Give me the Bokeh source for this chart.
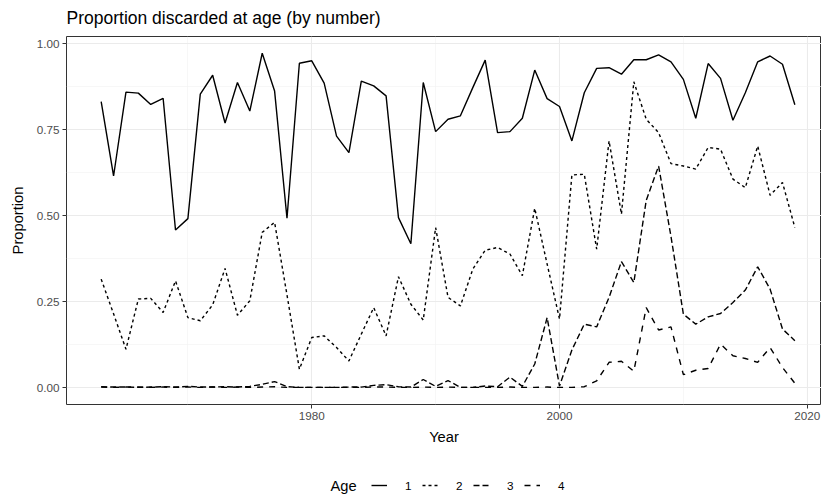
from bokeh.plotting import figure
from bokeh.models import Range1d, FixedTicker, Legend, LegendItem, ColumnDataSource, Label
from bokeh.layouts import column
from bokeh.embed import file_html
from bokeh.resources import INLINE

years = list(range(1963, 2020))

age1 = [0.832, 0.616, 0.860, 0.857, 0.824, 0.842, 0.459, 0.492, 0.854, 0.909,
        0.770, 0.888, 0.805, 0.973, 0.863, 0.493, 0.944, 0.951,
        0.886, 0.732, 0.684, 0.892, 0.878, 0.849, 0.495, 0.419, 0.888, 0.745,
        0.781, 0.791, 0.873, 0.953, 0.742, 0.745, 0.784, 0.924, 0.841, 0.818,
        0.718, 0.858, 0.929, 0.931, 0.912, 0.954, 0.954, 0.968, 0.948, 0.897,
        0.784, 0.943, 0.900, 0.778, 0.858, 0.948, 0.965, 0.941, 0.823]

age2 = [0.316, 0.215, 0.112, 0.258, 0.260, 0.219, 0.311, 0.204, 0.195, 0.241,
        0.347, 0.211, 0.253, 0.452, 0.481, 0.270, 0.054, 0.146,
        0.151, 0.117, 0.078, 0.156, 0.233, 0.151, 0.323, 0.243, 0.197, 0.466,
        0.263, 0.238, 0.345, 0.400, 0.408, 0.389, 0.326, 0.522, 0.360, 0.200,
        0.619, 0.621, 0.403, 0.718, 0.505, 0.890, 0.781, 0.742, 0.652, 0.645,
        0.636, 0.699, 0.694, 0.607, 0.582, 0.703, 0.560, 0.597, 0.466]

age3 = [0.003, 0.002, 0.002, 0.001, 0.002, 0.003, 0.002, 0.004, 0.002, 0.002,
        0.003, 0.002, 0.004, 0.010, 0.018, 0.003, 0.001, 0.001,
        0.001, 0.001, 0.002, 0.002, 0.007, 0.009, 0.003, 0.002, 0.024, 0.004,
        0.021, 0.001, 0.001, 0.005, 0.003, 0.031, 0.004, 0.069, 0.204, 0.005,
        0.110, 0.185, 0.177, 0.263, 0.367, 0.306, 0.545, 0.645, 0.440, 0.214,
        0.185, 0.206, 0.216, 0.248, 0.284, 0.352, 0.287, 0.171, 0.137]

age4 = [0.002, 0.001, 0.002, 0.002, 0.001, 0.002, 0.001, 0.002, 0.001, 0.002,
        0.001, 0.002, 0.001, 0.002, 0.003, 0.001, 0.001, 0.001,
        0.001, 0.001, 0.001, 0.001, 0.002, 0.002, 0.001, 0.001, 0.002, 0.001,
        0.002, 0.001, 0.001, 0.001, 0.001, 0.002, 0.001, 0.001, 0.002, 0.001,
        0.001, 0.003, 0.020, 0.074, 0.077, 0.048, 0.233, 0.168, 0.177, 0.038,
        0.051, 0.056, 0.127, 0.093, 0.085, 0.074, 0.117, 0.059, 0.013]

age_labels = ["1", "2", "3", "4"]
dashes = ["solid", "3 3", "6 3", "6 6"]

FONT = "Liberation Sans"

p = figure(width=821, height=455, output_backend="svg", toolbar_location=None,
           x_range=Range1d(1960.2, 2021.15), y_range=Range1d(-0.0487, 1.0217),
           min_border_left=66, min_border_right=0, min_border_top=35, min_border_bottom=51)

p.background_fill_color = "white"
p.border_fill_color = "white"
p.outline_line_color = "#333333"
p.outline_line_width = 1

p.title.text = "Proportion discarded at age (by number)"
p.title.text_font = FONT
p.title.text_font_size = "17.5px"
p.title.text_font_style = "normal"
p.title.text_color = "black"
p.title.offset = 0
p.title.standoff = 14
p.title.vertical_align = "top"

p.xaxis.ticker = FixedTicker(ticks=[1980, 2000, 2020], minor_ticks=[1970, 1990, 2010])
p.yaxis.ticker = FixedTicker(ticks=[0, 0.25, 0.5, 0.75, 1.0],
                             minor_ticks=[0.125, 0.375, 0.625, 0.875])
p.yaxis.major_label_overrides = {0: "0.00", 0.25: "0.25", 0.5: "0.50", 0.75: "0.75", 1.0: "1.00"}

for ax in (p.xaxis, p.yaxis):
    ax.axis_line_color = None
    ax.major_tick_line_color = "#333333"
    ax.major_tick_out = 4
    ax.major_tick_in = 0
    ax.minor_tick_line_color = None
    ax.major_label_text_font = FONT
    ax.major_label_text_font_size = "11.7px"
    ax.major_label_text_color = "#4D4D4D"
    ax.major_label_standoff = 3
    ax.axis_label_text_font = FONT
    ax.axis_label_text_font_size = "14.7px"
    ax.axis_label_text_font_style = "normal"
    ax.axis_label_text_color = "black"

p.xaxis.axis_label = "Year"
p.yaxis.axis_label = "Proportion"
p.xaxis.axis_label_standoff = 6
p.yaxis.axis_label_standoff = 8

p.xgrid.grid_line_color = "#EBEBEB"
p.ygrid.grid_line_color = "#EBEBEB"
p.xgrid.grid_line_width = 1.1
p.ygrid.grid_line_width = 1.1
p.xgrid.minor_grid_line_color = "#F2F2F2"
p.ygrid.minor_grid_line_color = "#F2F2F2"
p.xgrid.minor_grid_line_width = 0.6
p.ygrid.minor_grid_line_width = 0.6

src = ColumnDataSource(dict(year=years, a1=age1, a2=age2, a3=age3, a4=age4))
for col, dash in zip(["a1", "a2", "a3", "a4"], dashes):
    p.line("year", col, source=src, line_color="black", line_width=1.4, line_dash=dash)

# legend strip below the chart
lg = figure(width=821, height=47, output_backend="svg", toolbar_location=None,
            x_range=Range1d(66, 821), y_range=Range1d(0, 34),
            min_border_left=66, min_border_right=0, min_border_top=13, min_border_bottom=0)
lg.axis.visible = False
lg.grid.visible = False
lg.outline_line_color = None
lg.background_fill_color = "white"
lg.border_fill_color = "white"

items = []
for lab, dash in zip(age_labels, dashes):
    # off-screen key renderers: they only supply the legend's line styles
    r = lg.line(x=[-100, -90], y=[-100, -100], line_color="black", line_width=1.4, line_dash=dash)
    items.append(LegendItem(label=lab, renderers=[r]))

legend = Legend(items=items, orientation="horizontal", location=(305, 10))
legend.border_line_color = None
legend.background_fill_alpha = 0
legend.label_text_font = FONT
legend.label_text_font_size = "11.7px"
legend.label_text_color = "black"
legend.glyph_width = 16
legend.glyph_height = 14
legend.spacing = 10
legend.label_standoff = 18
legend.label_width = 7
legend.padding = 0
legend.margin = 0
lg.add_layout(legend, "center")

lg.add_layout(Label(x=330, y=17, text="Age", text_font=FONT, text_font_size="14.7px",
                    text_color="black", text_baseline="middle", text_align="left"))

open("out.html", "w").write(file_html(column(p, lg, spacing=0), INLINE))
